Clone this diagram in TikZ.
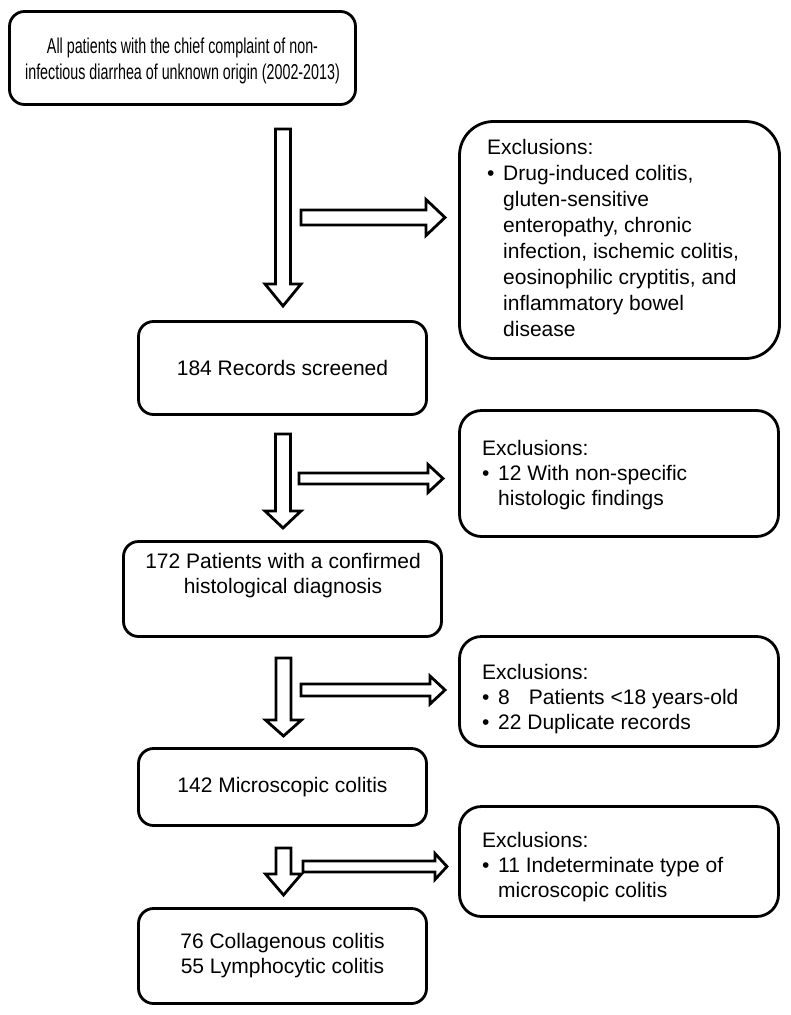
\documentclass[tikz,border=0pt]{standalone}
\usepackage{fontspec}
\setmainfont{Liberation Sans}
\newfontfamily\narrowfont[FakeStretch=0.665]{Liberation Sans}
\usetikzlibrary{calc,positioning}
\tikzstyle{box}=[draw=black, line width=2.8, rounded corners=15, fill=white, align=center, inner sep=0, font=\fontsize{21}{25}\selectfont]
\tikzstyle{exbox}=[box, rounded corners=22]
\tikzstyle{txt}=[align=left, anchor=north west, inner sep=0, font=\fontsize{21}{25}\selectfont]
\tikzstyle{blk}=[draw=black, line width=2.8, fill=white, line join=miter]
\newcommand{\bl}{\makebox[16pt][l]{\textbullet}}
\newcommand{\cont}{\hspace*{16pt}}
% block arrow: start, tip, shaft half width, head half width, head length
\newcommand{\blockarrow}[5]{%
  \coordinate (hb) at ($(#2)!#5!(#1)$);
  \draw[blk] ($(#1)!#3!90:(#2)$) -- ($(hb)!#3!90:(#2)$) -- ($(hb)!#4!90:(#2)$) -- (#2)
    -- ($(hb)!#4!-90:(#2)$) -- ($(hb)!#3!-90:(#2)$) -- ($(#1)!#3!-90:(#2)$) -- cycle;}

\begin{document}
\begin{tikzpicture}[x=1pt, y=1pt]
    \useasboundingbox (0,0) rectangle (791,-1015);

    % main column
    \node[box, minimum width=346, minimum height=93] at (182.5,-58) (all) {};
    \node[align=center, inner sep=0, font=\narrowfont\fontsize{21.5}{26}\selectfont] at (182.5,-61) (alltxt)
        {All patients with the chief complaint of non-\\infectious diarrhea of unknown origin (2002-2013)};
    \node[box, minimum width=288, minimum height=93] at (282.5,-368) (rec) {184 Records screened};
    \node[box, minimum width=318, minimum height=95] at (282.5,-589) (conf) {};
    \node[align=center, inner sep=0, font=\fontsize{21}{25}\selectfont] at (283,-575.5) (conftxt)
        {172 Patients with a confirmed\\histological diagnosis};
    \node[box, minimum width=288, minimum height=77] at (282.5,-787) (micro) {142 Microscopic colitis};
    \node[box, minimum width=288, minimum height=95] at (282.5,-956) (final)
        {76 Collagenous colitis\\55 Lymphocytic colitis};

    % exclusion boxes
    \node[exbox, rounded corners=34, minimum width=320, minimum height=237] at (619.5,-240) (ex1) {};
    \node[txt, font=\fontsize{21}{26}\selectfont] at (487,-139) (ex1txt) {Exclusions:\\
        \bl Drug-induced colitis,\\ \cont gluten-sensitive\\ \cont enteropathy, chronic\\
        \cont infection, ischemic colitis,\\ \cont eosinophilic cryptitis, and\\
        \cont inflammatory bowel\\ \cont disease};
    \node[exbox, minimum width=319, minimum height=126] at (619,-473.5) (ex2) {};
    \node[txt] at (482,-440) (ex2txt) {Exclusions:\\
        \bl 12 With non-specific\\ \cont histologic findings};
    \node[exbox, minimum width=319, minimum height=110] at (619,-691.5) (ex3) {};
    \node[txt] at (482,-664) (ex3txt) {Exclusions:\\
        \bl 8\hspace{19pt}Patients <18 years-old\\ \bl 22 Duplicate records};
    \node[exbox, minimum width=319, minimum height=110] at (619,-861.5) (ex4) {};
    \node[txt] at (482,-832) (ex4txt) {Exclusions:\\
        \bl 11 Indeterminate type of\\ \cont microscopic colitis};

    % arrow ends
    \coordinate (d1s) at (283,-129);   \coordinate (d1e) at (283,-306);
    \coordinate (d2s) at (283,-434);   \coordinate (d2e) at (283,-528);
    \coordinate (d3s) at (283.5,-658); \coordinate (d3e) at (283.5,-736);
    \coordinate (d4s) at (283.5,-848); \coordinate (d4e) at (283.5,-895);
    \coordinate (r1s) at (301,-217.5); \coordinate (r1e) at (445,-217.5);
    \coordinate (r2s) at (299,-478.5); \coordinate (r2e) at (443,-478.5);
    \coordinate (r3s) at (301,-690);   \coordinate (r3e) at (445,-690);
    \coordinate (r4s) at (303,-866.5); \coordinate (r4e) at (447,-866.5);

    \blockarrow{d1s}{d1e}{7.5pt}{18pt}{22pt}
    \blockarrow{d2s}{d2e}{7.5pt}{18pt}{17pt}
    \blockarrow{d3s}{d3e}{7.5pt}{18pt}{16pt}
    \blockarrow{d4s}{d4e}{7.5pt}{18pt}{21pt}
    \blockarrow{r1s}{r1e}{7.5pt}{18pt}{19pt}
    \blockarrow{r2s}{r2e}{5.5pt}{14pt}{15pt}
    \blockarrow{r3s}{r3e}{6pt}{14pt}{15pt}
    \blockarrow{r4s}{r4e}{5.5pt}{13pt}{12pt}

\end{tikzpicture}
\end{document}
